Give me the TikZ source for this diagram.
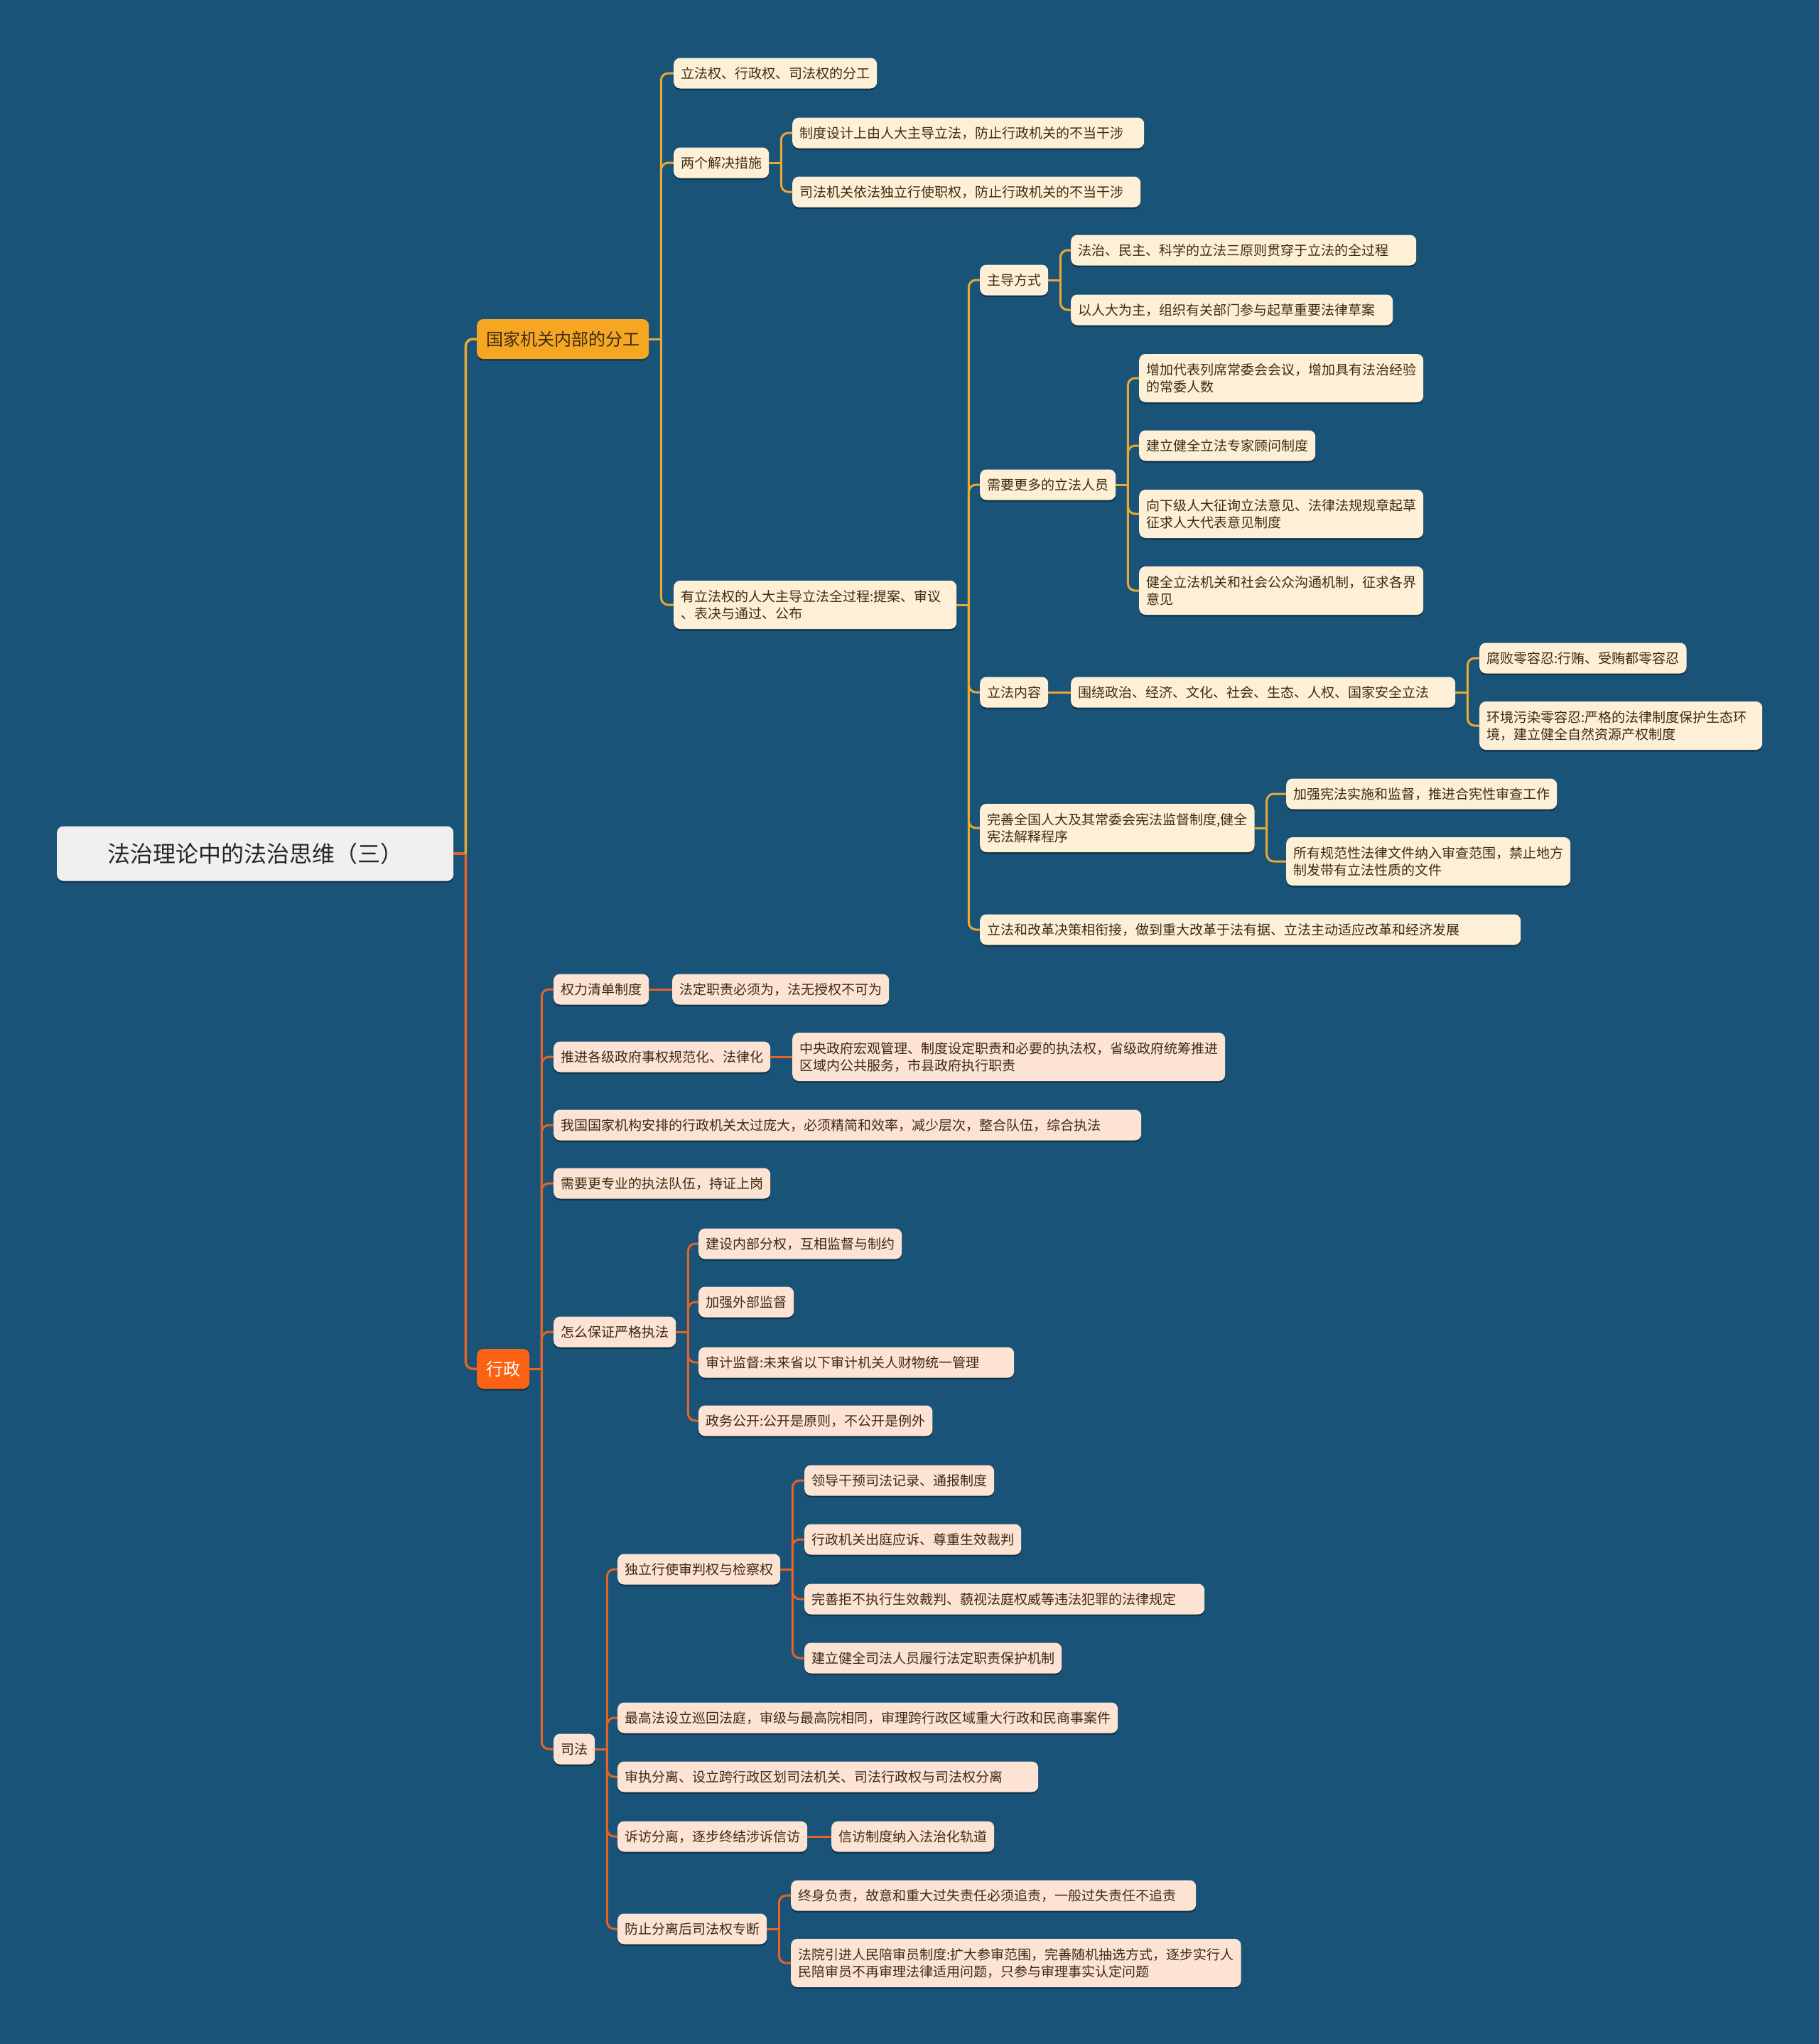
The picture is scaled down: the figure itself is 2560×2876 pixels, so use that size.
\documentclass[tikz,border=0pt]{standalone}
\usepackage{fontspec}
\setmainfont{Noto Sans CJK SC}
\usetikzlibrary{shadows}

\definecolor{bgblue}{RGB}{26,83,120}
\definecolor{rootfill}{RGB}{240,240,240}
\definecolor{topicgold}{RGB}{245,166,35}
\definecolor{topicred}{RGB}{252,98,20}
\definecolor{creamfill}{RGB}{254,240,214}
\definecolor{peachfill}{RGB}{253,227,211}
\definecolor{linegold}{RGB}{232,170,50}
\definecolor{linered}{RGB}{226,100,38}
\definecolor{textbrown}{RGB}{62,42,18}

\tikzset{
  softshadow/.style={drop shadow={shadow xshift=0pt, shadow yshift=-2.5pt, opacity=.35, fill=black}},
  rootbox/.style={rounded corners=9pt, anchor=west, fill=rootfill, text=black!85,
    minimum width=558pt, minimum height=77pt, font=\fontsize{32}{36}\selectfont, softshadow},
  topic/.style={rounded corners=9pt, anchor=west, inner xsep=13pt, minimum height=56pt,
    font=\fontsize{24}{28}\selectfont, softshadow},
  box/.style={rounded corners=9pt, anchor=west, inner xsep=10pt, inner ysep=0pt,
    minimum height=43pt, align=left, text=textbrown, font=\fontsize{19}{24}\selectfont, softshadow},
  two/.style={minimum height=68pt},
  yleaf/.style={box, fill=creamfill},
  rleaf/.style={box, fill=peachfill},
  yline/.style={draw=linegold, line width=3pt},
  rline/.style={draw=linered, line width=3pt},
}

\begin{document}
\begin{tikzpicture}[x=1pt,y=-1pt]
  % background
  \fill[bgblue] (0,0) rectangle (2560,2876);

  % root and main branches
  \node[rootbox] (root) at (80,1201) {法治理论中的法治思维（三）};
  \node[topic, fill=topicgold, text=textbrown] (guojia) at (671,477) {国家机关内部的分工};
  \node[topic, fill=topicred, text=white] (xingzheng) at (671,1926) {行政};

  % --- 国家机关内部的分工 ---
  \node[yleaf] (fengong) at (948,103) {立法权、行政权、司法权的分工};
  \node[yleaf] (liangge) at (948,229) {两个解决措施};
  \node[yleaf, two, text width=378pt] (youlifa) at (948,851) {有立法权的人大主导立法全过程:提案、审议\\、表决与通过、公布};

  \node[yleaf, text width=475pt] (zhidu) at (1115,187) {制度设计上由人大主导立法，防止行政机关的不当干涉};
  \node[yleaf, text width=470pt] (sifajg) at (1115,270) {司法机关依法独立行使职权，防止行政机关的不当干涉};

  \node[yleaf] (zhudao) at (1379,394) {主导方式};
  \node[yleaf] (renyuan) at (1379,682) {需要更多的立法人员};
  \node[yleaf] (neirong) at (1379,974) {立法内容};
  \node[yleaf, two] (wanshan) at (1379,1165) {完善全国人大及其常委会宪法监督制度,健全\\宪法解释程序};
  \node[yleaf, text width=741pt] (gaige) at (1379,1308) {立法和改革决策相衔接，做到重大改革于法有据、立法主动适应改革和经济发展};

  \node[yleaf, text width=466pt] (sanyuanze) at (1507,352) {法治、民主、科学的立法三原则贯穿于立法的全过程};
  \node[yleaf, text width=433pt] (yirenda) at (1507,436) {以人大为主，组织有关部门参与起草重要法律草案};

  \node[yleaf, two] (liexi) at (1603,532) {增加代表列席常委会会议，增加具有法治经验\\的常委人数};
  \node[yleaf] (zhuanjia) at (1603,627) {建立健全立法专家顾问制度};
  \node[yleaf, two] (zhengxun) at (1603,723) {向下级人大征询立法意见、法律法规规章起草\\征求人大代表意见制度};
  \node[yleaf, two] (goutong) at (1603,831) {健全立法机关和社会公众沟通机制，征求各界\\意见};

  \node[yleaf, text width=521pt] (weirao) at (1507,974) {围绕政治、经济、文化、社会、生态、人权、国家安全立法};
  \node[yleaf] (fubai) at (2082,926) {腐败零容忍:行贿、受贿都零容忍};
  \node[yleaf, two, text width=378pt] (huanjing) at (2082,1021) {环境污染零容忍:严格的法律制度保护生态环\\境，建立健全自然资源产权制度};

  \node[yleaf] (jiaqiang) at (1810,1117) {加强宪法实施和监督，推进合宪性审查工作};
  \node[yleaf, two] (guifan) at (1810,1212) {所有规范性法律文件纳入审查范围，禁止地方\\制发带有立法性质的文件};

  % --- 行政 ---
  \node[rleaf] (quanli) at (779,1392) {权力清单制度};
  \node[rleaf] (fading) at (946,1392) {法定职责必须为，法无授权不可为};
  \node[rleaf] (tuijin) at (779,1487) {推进各级政府事权规范化、法律化};
  \node[rleaf, two] (zhongyang) at (1115,1487) {中央政府宏观管理、制度设定职责和必要的执法权，省级政府统筹推进\\区域内公共服务，市县政府执行职责};
  \node[rleaf, text width=807pt] (pangda) at (779,1583) {我国国家机构安排的行政机关太过庞大，必须精简和效率，减少层次，整合队伍，综合执法};
  \node[rleaf] (zhuanye) at (779,1665) {需要更专业的执法队伍，持证上岗};
  \node[rleaf] (zenme) at (779,1874) {怎么保证严格执法};
  \node[rleaf] (fenquan) at (983,1750) {建设内部分权，互相监督与制约};
  \node[rleaf] (waibu) at (983,1832) {加强外部监督};
  \node[rleaf, text width=424pt] (shenji) at (983,1917) {审计监督:未来省以下审计机关人财物统一管理};
  \node[rleaf] (zhengwu) at (983,1999) {政务公开:公开是原则，不公开是例外};

  \node[rleaf] (sifa) at (779,2461) {司法};
  \node[rleaf] (duli) at (869,2208) {独立行使审判权与检察权};
  \node[rleaf] (lingdao) at (1132,2083) {领导干预司法记录、通报制度};
  \node[rleaf] (chuting) at (1132,2166) {行政机关出庭应诉、尊重生效裁判};
  \node[rleaf, text width=543pt] (juzhi) at (1132,2250) {完善拒不执行生效裁判、藐视法庭权威等违法犯罪的法律规定};
  \node[rleaf] (baohu) at (1132,2333) {建立健全司法人员履行法定职责保护机制};
  \node[rleaf] (xunhui) at (869,2417) {最高法设立巡回法庭，审级与最高院相同，审理跨行政区域重大行政和民商事案件};
  \node[rleaf, text width=572pt] (shenzhi) at (869,2500) {审执分离、设立跨行政区划司法机关、司法行政权与司法权分离};
  \node[rleaf] (sufang) at (869,2584) {诉访分离，逐步终结涉诉信访};
  \node[rleaf] (xinfang) at (1170,2584) {信访制度纳入法治化轨道};
  \node[rleaf] (zhuanduan) at (869,2714) {防止分离后司法权专断};
  \node[rleaf, text width=550pt] (zhongshen) at (1113,2667) {终身负责，故意和重大过失责任必须追责，一般过失责任不追责};
  \node[rleaf, two] (peishen) at (1113,2762) {法院引进人民陪审员制度:扩大参审范围，完善随机抽选方式，逐步实行人\\民陪审员不再审理法律适用问题，只参与审理事实认定问题};

  % branch points
  \foreach \p in {root,guojia,liangge,youlifa,zhudao,renyuan,weirao,wanshan,xingzheng,zenme,sifa,duli,zhuanduan}
    \coordinate (\p-b) at ([xshift=17pt]\p.east);

  % connectors
  \draw[rline, line width=3.5pt] (root.east) -- (root-b);
  \draw[yline, line width=3.5pt, rounded corners=10pt] (root-b) |- (guojia.west);
  \draw[rline, line width=3.5pt, rounded corners=10pt] (root-b) |- (xingzheng.west);

  \draw[yline] (guojia.east) -- (guojia-b);
  \foreach \c in {fengong,liangge,youlifa}
    \draw[yline, rounded corners=10pt] (guojia-b) |- (\c.west);
  \draw[yline] (liangge.east) -- (liangge-b);
  \foreach \c in {zhidu,sifajg}
    \draw[yline, rounded corners=10pt] (liangge-b) |- (\c.west);
  \draw[yline] (youlifa.east) -- (youlifa-b);
  \foreach \c in {zhudao,renyuan,neirong,wanshan,gaige}
    \draw[yline, rounded corners=10pt] (youlifa-b) |- (\c.west);
  \draw[yline] (zhudao.east) -- (zhudao-b);
  \foreach \c in {sanyuanze,yirenda}
    \draw[yline, rounded corners=10pt] (zhudao-b) |- (\c.west);
  \draw[yline] (renyuan.east) -- (renyuan-b);
  \foreach \c in {liexi,zhuanjia,zhengxun,goutong}
    \draw[yline, rounded corners=10pt] (renyuan-b) |- (\c.west);
  \draw[yline] (neirong.east) -- (weirao.west);
  \draw[yline] (weirao.east) -- (weirao-b);
  \foreach \c in {fubai,huanjing}
    \draw[yline, rounded corners=10pt] (weirao-b) |- (\c.west);
  \draw[yline] (wanshan.east) -- (wanshan-b);
  \foreach \c in {jiaqiang,guifan}
    \draw[yline, rounded corners=10pt] (wanshan-b) |- (\c.west);

  \draw[rline] (xingzheng.east) -- (xingzheng-b);
  \foreach \c in {quanli,tuijin,pangda,zhuanye,zenme,sifa}
    \draw[rline, rounded corners=10pt] (xingzheng-b) |- (\c.west);
  \draw[rline] (quanli.east) -- (fading.west);
  \draw[rline] (tuijin.east) -- (zhongyang.west);
  \draw[rline] (zenme.east) -- (zenme-b);
  \foreach \c in {fenquan,waibu,shenji,zhengwu}
    \draw[rline, rounded corners=10pt] (zenme-b) |- (\c.west);
  \draw[rline] (sifa.east) -- (sifa-b);
  \foreach \c in {duli,xunhui,shenzhi,sufang,zhuanduan}
    \draw[rline, rounded corners=10pt] (sifa-b) |- (\c.west);
  \draw[rline] (duli.east) -- (duli-b);
  \foreach \c in {lingdao,chuting,juzhi,baohu}
    \draw[rline, rounded corners=10pt] (duli-b) |- (\c.west);
  \draw[rline] (sufang.east) -- (xinfang.west);
  \draw[rline] (zhuanduan.east) -- (zhuanduan-b);
  \foreach \c in {zhongshen,peishen}
    \draw[rline, rounded corners=10pt] (zhuanduan-b) |- (\c.west);
\end{tikzpicture}
\end{document}
